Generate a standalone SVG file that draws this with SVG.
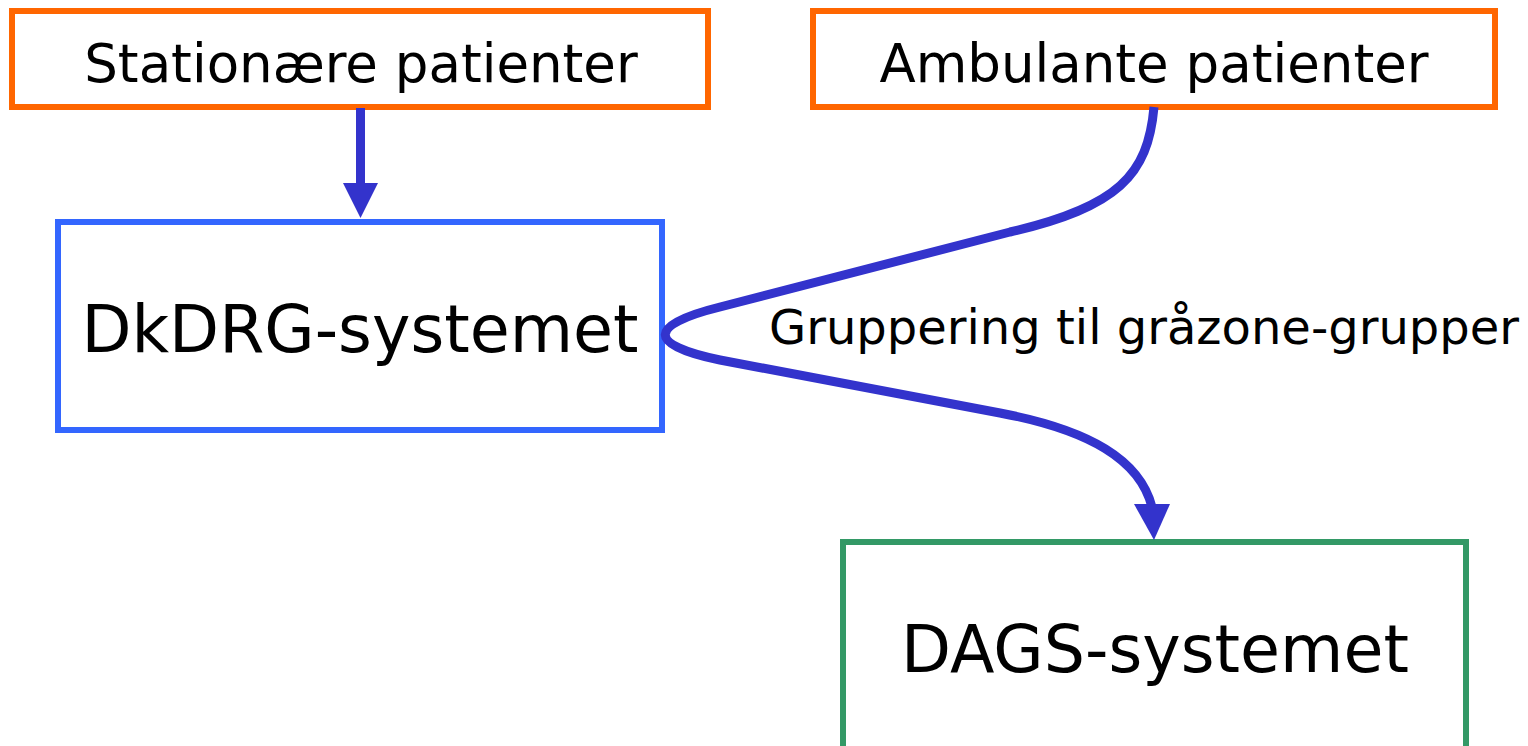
<svg xmlns="http://www.w3.org/2000/svg" width="1528" height="746" viewBox="0 0 1528 746">
<style>
.box{fill:#fff;stroke-width:6}
.t{font-family:"DejaVu Sans",Verdana,sans-serif;fill:#000;text-anchor:middle}
.c{fill:none;stroke:#3333CC;stroke-width:9}
.h{fill:#3333CC}
</style>
<rect width="1528" height="746" fill="#fff"/>
<g id="n-stationaere">
<rect class="box" x="12" y="11" width="696" height="96" stroke="#FF6600"/>
<text class="t" x="361" y="82" font-size="53">Stationære patienter</text>
</g>
<g id="n-ambulante">
<rect class="box" x="813" y="11" width="682" height="96" stroke="#FF6600"/>
<text class="t" x="1154" y="82" font-size="53">Ambulante patienter</text>
</g>
<g id="n-dkdrg">
<rect class="box" x="58" y="222" width="604" height="208" stroke="#3366FF"/>
<text class="t" x="360" y="352" font-size="65">DkDRG-systemet</text>
</g>
<g id="n-dags">
<rect class="box" x="843" y="542" width="623" height="220" stroke="#339966"/>
<text class="t" x="1155" y="672" font-size="65">DAGS-systemet</text>
</g>
<g id="connectors">
<line class="c" x1="360.5" y1="108" x2="360.5" y2="186" stroke-width="10"/>
<polygon class="h" points="343,183 378,183 360.5,218"/>
<path class="c" d="M1154,107 C1148,175 1118,207 1010,232 L720,307 C647,325 647,345 720,360 L1000,413 C1090,430 1140,460 1152,507"/>
<polygon class="h" points="1134,504 1170,504 1154,540"/>
<text class="t" x="1144" y="344" font-size="48">Gruppering til gråzone-grupper</text>
</g>
</svg>
